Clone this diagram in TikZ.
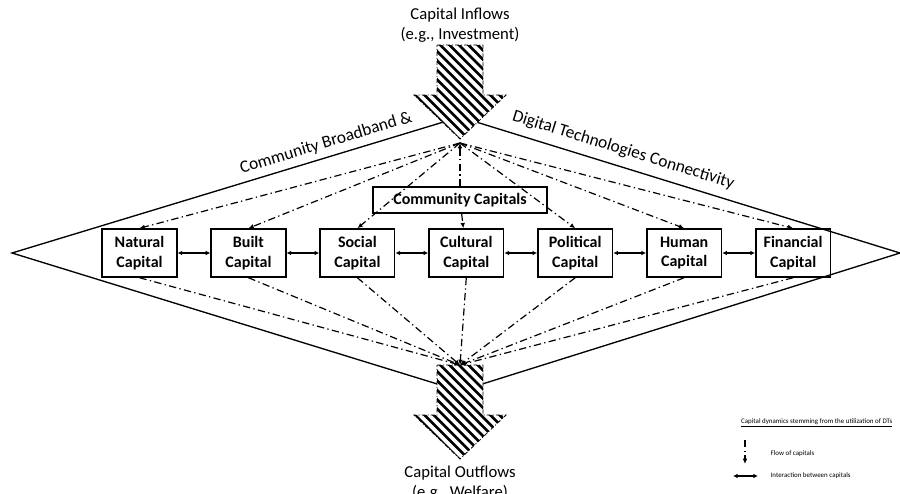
\documentclass[tikz,border=0pt]{standalone}
\usepackage{fontspec}
\setmainfont{Carlito}
\usetikzlibrary{positioning,arrows.meta}

\tikzset{
  capbox/.style={draw, line width=1.1pt, minimum width=56pt, minimum height=36pt, inner xsep=2pt, align=center, font=\fontsize{12}{14.5}\selectfont\bfseries},
  flowline/.style={line width=0.9pt, dash pattern=on 5.5pt off 2.5pt on 1pt off 2.5pt, -{Latex[length=4pt,width=3.5pt]}},
  linkline/.style={line width=0.9pt, {Latex[length=3.5pt,width=3.5pt]}-{Latex[length=3.5pt,width=3.5pt]}},
  arrowedge/.style={line width=0.6pt, dash pattern=on 3pt off 1.5pt on 0.8pt off 1.5pt},
  hatchline/.style={line width=2pt},
  flowtext/.style={align=center, font=\fontsize{12.5}{15}\selectfont},
  edgetext/.style={font=\fontsize{13}{15}\selectfont},
  keytext/.style={anchor=west, font=\fontsize{5.2}{6.2}\selectfont},
}

\begin{document}
\begin{tikzpicture}[x=0.75pt,y=-0.75pt]
    \useasboundingbox (0,0) rectangle (900,493);
    \coordinate (west) at (12,253);
    \coordinate (north) at (460,117);
    \coordinate (east) at (900,253);
    \coordinate (south) at (460,391);
    \draw[line width=1pt] (west) -- node[pos=0.71, sloped, above=1pt, edgetext] {Community Broadband \&} (north)
        -- node[pos=0.36, sloped, above=3pt, edgetext] {Digital Technologies Connectivity} (east) -- (south) -- cycle;

    \foreach \top in {45,365} {
        \begin{scope}[shift={(0,\top)}]
            \fill[white] (437,0) -- (483,0) -- (483,50) -- (506,50) -- (460,94) -- (414,50) -- (437,50) -- cycle;
            \begin{scope}
                \clip (437,0) -- (483,0) -- (483,50) -- (506,50) -- (460,94) -- (414,50) -- (437,50) -- cycle;
                \foreach \c in {318,327.4,...,515}
                    \draw[hatchline] (\c-20,-20) -- (\c+120,120);
            \end{scope}
            \draw[arrowedge] (437,0) -- (483,0) -- (483,50) -- (506,50) -- (460,94) -- (414,50) -- (437,50) -- cycle;
        \end{scope}
    }
    \node[flowtext] (inflow) at (460,25) {Capital Inflows\\(e.g., Investment)};
    \node[flowtext] (outflow) at (460,483) {Capital Outflows\\(e.g., Welfare)};

    \node[capbox] (natural) at (139.5,253) {Natural\\Capital};
    \node[capbox, right=24.6pt of natural] (built) {Built\\Capital};
    \node[capbox, right=24.6pt of built] (social) {Social\\Capital};
    \node[capbox, right=24.6pt of social] (cultural) {Cultural\\Capital};
    \node[capbox, right=24.6pt of cultural] (political) {Political\\Capital};
    \node[capbox, right=24.6pt of political] (human) {Human\\Capital};
    \node[capbox, right=24.6pt of human] (financial) {Financial\\Capital};
    \node[capbox, minimum width=130.5pt, minimum height=19.5pt, inner ysep=1pt] (community) at (460,200) {Community Capitals};

    \coordinate (hubtop) at (460,143);
    \coordinate (hubbottom) at (460,365);
    \draw[flowline] (community) -- (hubtop);
    \draw[flowline] (community) -- (cultural);
    \foreach \cap in {natural,built,social,political,human,financial}
        \draw[flowline] (hubtop) -- (\cap.north);
    \foreach \cap in {natural,built,social,cultural,political,human,financial}
        \draw[flowline] (\cap.south) -- (hubbottom);
    \foreach \a/\b in {natural/built,built/social,social/cultural,cultural/political,political/human,human/financial}
        \draw[linkline] (\a) -- (\b);

    \node[keytext, anchor=east] (keytitle) at (897,423) {\underline{Capital dynamics stemming from the utilization of DTs}};
    \node[keytext] (keyflow) at (766,454) {Flow of capitals};
    \node[keytext] (keylink) at (766,476) {Interaction between capitals};
    \coordinate (flowstart) at (745,440);
    \coordinate (flowend) at (745,464);
    \coordinate (linkstart) at (733,476);
    \coordinate (linkend) at (758,476);
    \draw[flowline] (flowstart) -- (flowend);
    \draw[linkline] (linkstart) -- (linkend);
\end{tikzpicture}
\end{document}
